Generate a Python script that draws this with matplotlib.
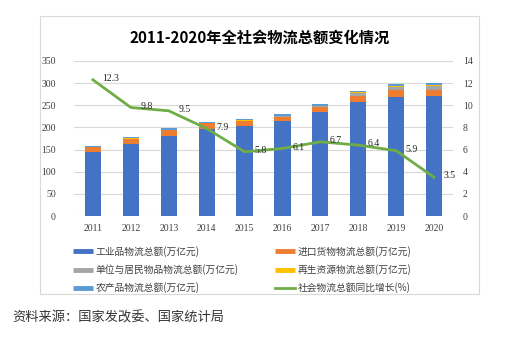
import matplotlib
matplotlib.use("Agg")
import matplotlib.pyplot as plt
from matplotlib.patches import Rectangle
from matplotlib.lines import Line2D
import numpy as np

plt.rcParams['font.family'] = ['Noto Sans CJK SC', 'DejaVu Sans']

years = ['2011', '2012', '2013', '2014', '2015', '2016', '2017', '2018', '2019', '2020']
industrial = [143.5, 162.0, 181.5, 196.9, 204.0, 214.0, 234.5, 256.8, 269.6, 269.9]
imports = [11.2, 11.9, 12.1, 12.0, 10.4, 10.5, 12.5, 14.1, 14.3, 14.2]
unit_resident = [0.3, 0.4, 0.4, 0.3, 0.5, 0.6, 1.0, 7.0, 8.4, 9.8]
recycled = [0.8, 0.8, 0.9, 0.8, 0.8, 0.9, 1.1, 1.3, 1.4, 1.6]
agri = [3.0, 3.0, 3.3, 3.3, 3.5, 3.6, 3.7, 3.9, 4.2, 4.6]
growth = [12.3, 9.8, 9.5, 7.9, 5.8, 6.1, 6.7, 6.4, 5.9, 3.5]

names = ['工业品物流总额(万亿元)', '进口货物物流总额(万亿元)', '单位与居民物品物流总额(万亿元)',
         '再生资源物流总额(万亿元)', '农产品物流总额(万亿元)', '社会物流总额同比增长(%)']
colors = ['#4472C4', '#ED7D31', '#A5A5A5', '#FFC000', '#5B9BD5']
green = '#70AD47'

fig = plt.figure(figsize=(5.07, 3.37), dpi=100)
fig.patch.set_facecolor('white')

# outer frame
fig.add_artist(Rectangle((40/507, 1-294/337), 439/507, 278/337, transform=fig.transFigure,
                         facecolor='white', edgecolor='#D9D9D9', linewidth=0.8, zorder=0))

ax = fig.add_axes([74/507, 1-216/337, 379/507, 155/337])
ax.set_facecolor('none')
x = np.arange(len(years))
series = [industrial, imports, unit_resident, recycled, agri]
bottom = np.zeros(len(years))
bw = 0.43
for vals, c in zip(series, colors):
    ax.bar(x, vals, bw, bottom=bottom, color=c, zorder=2)
    bottom += np.array(vals)

ax.set_xlim(-0.5, len(years) - 0.5)
ax.set_ylim(0, 350)
ax.set_yticks(np.arange(0, 351, 50))
ax.set_xticks(x)
ax.set_xticklabels(years)
ax.yaxis.grid(True, color='#D9D9D9', linewidth=0.8, zorder=0)
ax.set_axisbelow(True)
for s in ax.spines.values():
    s.set_visible(False)
ax.tick_params(axis='both', length=0, labelsize=7, labelcolor='#404040',
               labelfontfamily='Liberation Serif')
ax.tick_params(axis='y', pad=13)
ax.tick_params(axis='x', pad=6)

ax2 = ax.twinx()
ax2.set_ylim(0, 14)
ax2.set_yticks(np.arange(0, 15, 2))
for s in ax2.spines.values():
    s.set_visible(False)
ax2.tick_params(axis='y', length=0, labelsize=7, labelcolor='#404040', pad=7,
                labelfontfamily='Liberation Serif')
ax2.plot(x, growth, color=green, linewidth=2.0, zorder=3)
for xi, g in zip(x, growth):
    ax2.annotate(f'{g}', (xi, g), xytext=(7, 1), textcoords='offset points',
                 ha='left', va='center', fontsize=7, color='#262626',
                 fontfamily='Liberation Serif')

fig.text(260/507, 1-38/337, '2011-2020年全社会物流总额变化情况', ha='center', va='center',
         fontsize=11, fontweight='bold', color='#000000')

handles = [Line2D([0], [0], color=c, linewidth=3.5, solid_capstyle='butt') for c in colors]
handles.append(Line2D([0], [0], color=green, linewidth=2))
order = [0, 2, 4, 1, 3, 5]
leg = fig.legend([handles[i] for i in order], [names[i] for i in order], ncol=2,
                 loc='upper left', bbox_to_anchor=(73/507, 1-246/337), frameon=False,
                 fontsize=7, handlelength=2.1, handletextpad=0.25, columnspacing=3.7,
                 labelspacing=0.75, borderaxespad=0, borderpad=0)
for t in leg.get_texts():
    t.set_color('#404040')

fig.text(12/507, 1-318/337, '资料来源：国家发改委、国家统计局', ha='left', va='center',
         fontsize=9.5, color='#333333')

fig.savefig('out.png', dpi=100)
